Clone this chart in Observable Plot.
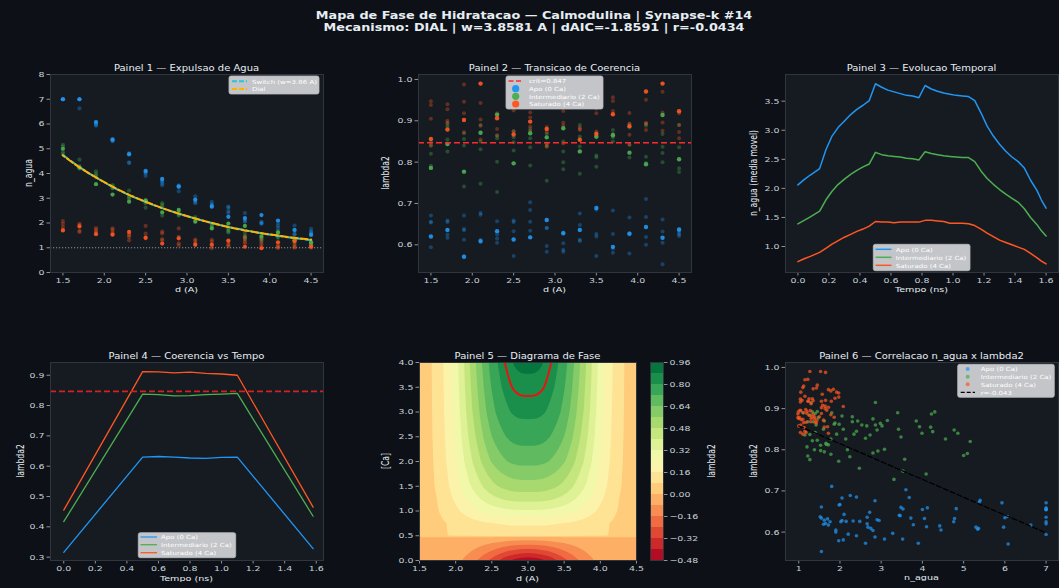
<!DOCTYPE html>
<html>
<head>
<meta charset="utf-8">
<script src="https://cdn.jsdelivr.net/npm/d3@7"></script>
<script src="https://cdn.jsdelivr.net/npm/@observablehq/plot@0.6"></script>
<style>
  html, body { margin: 0; padding: 0; background: #0d1117; }
  #fig { position: relative; width: 1059px; height: 588px; background: #0d1117; overflow: hidden; }
  .panel { position: absolute; }
  .panel svg { overflow: visible; }
</style>
</head>
<body>
<div id="fig"></div>
<script>
// ---------------- DATA ----------------
const suptitle1 = "Mapa de Fase de Hidratacao \u2014 Calmodulina | Synapse-k #14";
const suptitle2 = "Mecanismo: DIAL | w=3.8581 A | dAIC=-1.8591 | r=-0.0434";
const panelTitles = ["Painel 1 \u2014 Expulsao de Agua", "Painel 2 \u2014 Transicao de Coerencia", "Painel 3 \u2014 Evolucao Temporal",
  "Painel 4 \u2014 Coerencia vs Tempo", "Painel 5 \u2014 Diagrama de Fase", "Painel 6 \u2014 Correlacao n_agua x lambda2"];
const groupNames = ["Apo (0 Ca)", "Intermediario (2 Ca)", "Saturado (4 Ca)"];

const dVals = [1.5,1.7,1.9,2.1,2.3,2.5,2.7,2.9,3.1,3.3,3.5,3.7,3.9,4.1,4.3,4.5];

// replicate 0 of each row is the highlighted one
const nApo = [
 [7.00,7.00,7.00,7.00,7.00],[7.00,7.00,7.00,7.00,6.63],[6.08,5.93,6.06,6.00,5.97],[5.36,5.40,5.38,5.30,5.34],
 [4.78,4.82,4.76,4.42,4.45],[4.10,4.12,4.00,4.05,3.90],[3.78,3.60,3.68,3.53,3.72],[3.48,3.44,3.46,3.28,3.52],
 [2.95,2.90,2.80,2.85,3.08],[2.66,2.85,2.72,2.68,2.75],[2.25,2.40,2.48,2.66,2.62],[2.20,2.05,2.15,2.40,2.08],
 [2.32,1.98,2.05,2.02,1.97],[2.10,1.80,2.00,1.60,1.90],[1.72,1.55,1.70,1.90,1.55],[1.52,1.55,1.62,1.76,1.65]];
const lApo = [
 [0.620,0.671,0.656,0.654,0.594],[0.636,0.659,0.655,0.625,0.617],[0.571,0.671,0.638,0.635,0.612],[0.609,0.677,0.673,0.612,0.607],
 [0.633,0.657,0.625,0.615,0.605],[0.613,0.659,0.655,0.633,0.573],[0.618,0.703,0.684,0.656,0.634],[0.660,0.641,0.640,0.597,0.583],
 [0.628,0.630,0.604,0.588,0.583],[0.636,0.676,0.648,0.612,0.609],[0.689,0.685,0.626,0.620,0.573],[0.595,0.683,0.626,0.591,0.581],
 [0.627,0.666,0.628,0.625,0.579],[0.643,0.711,0.667,0.619,0.600],[0.617,0.661,0.632,0.605,0.553],[0.637,0.634,0.629,0.625,0.621]];
const nInt = [
 [5.00,5.16,5.09,4.86,4.77],[4.25,4.56,4.30,4.22,4.20],[3.57,4.09,3.99,3.93,3.85],[3.15,3.53,3.48,3.42,3.40],
 [2.86,3.31,3.08,3.02,2.98],[2.92,2.62,2.90,2.86,2.80],[2.43,2.80,2.73,2.65,2.30],[2.53,2.47,2.40,2.34,2.30],
 [2.05,2.24,2.18,2.14,2.08],[1.78,1.97,1.92,1.86,1.80],[1.98,1.78,1.72,1.66,1.62],[1.88,1.60,1.47,1.42,1.35],
 [1.45,1.53,1.40,1.33,1.27],[1.62,1.67,1.53,1.45,1.40],[1.30,1.38,1.33,1.27,1.22],[1.20,1.27,1.22,1.15,1.10]];
const lInt = [
 [0.786,0.820,0.791,0.840,0.848],[0.844,0.826,0.892,0.887,0.855],[0.777,0.741,0.840,0.856,0.870],[0.871,0.748,0.831,0.850,0.890],
 [0.915,0.728,0.801,0.858,0.864],[0.797,0.828,0.848,0.860,0.875],[0.870,0.792,0.836,0.858,0.880],[0.860,0.755,0.845,0.838,0.868],
 [0.882,0.783,0.800,0.826,0.850],[0.826,0.772,0.838,0.862,0.890],[0.862,0.789,0.812,0.816,0.870],[0.865,0.850,0.878,0.860,0.868],
 [0.823,0.811,0.842,0.892,0.884],[0.795,0.813,0.798,0.893,0.888],[0.914,0.800,0.822,0.837,0.868],[0.807,0.776,0.785,0.836,0.890]];
const nSat = [
 [1.70,2.08,1.97,1.84,1.72],[1.86,1.97,1.92,1.68,1.64],[1.55,1.79,1.72,1.65,1.60],[1.53,1.78,1.72,1.62,1.55],
 [1.64,1.55,1.50,1.43,1.30],[1.40,1.88,1.57,1.43,1.38],[1.17,1.65,1.58,1.35,1.30],[1.38,1.78,1.44,1.18,1.10],
 [1.12,1.33,1.28,1.20,1.15],[1.13,1.32,1.25,1.05,0.98],[1.29,1.24,1.15,1.10,1.05],[1.04,1.45,1.35,1.25,1.18],
 [0.98,1.35,1.20,1.12,1.04],[1.22,1.10,1.05,1.02,0.99],[1.27,1.15,1.08,1.03,1.00],[1.04,1.22,1.12,1.06,1.00]];
const lSat = [
 [0.856,0.905,0.938,0.947,0.840],[0.879,0.928,0.940,0.896,0.900],[0.902,0.918,0.946,0.988,0.872],[0.990,0.943,0.903,0.855,0.888],
 [0.906,0.918,0.880,0.865,0.912],[0.867,0.925,0.935,0.950,0.875],[0.898,0.920,0.908,0.886,0.876],[0.880,0.885,0.872,0.842,0.838],
 [0.955,0.924,0.895,0.888,0.845],[0.854,0.880,0.884,0.940,0.878],[0.868,0.918,0.930,0.874,0.860],[0.916,0.957,0.948,0.924,0.867],
 [0.887,0.919,0.893,0.866,0.842],[0.971,0.951,0.895,0.878,0.892],[0.990,0.970,0.920,0.896,0.876],[0.923,0.918,0.890,0.873,0.858]];

const fitSwitch = [4.75,4.26,3.84,3.46,3.13,2.85,2.60,2.38,2.18,2.00,1.84,1.71,1.59,1.48,1.39,1.31];
const fitDial   = [4.73,4.25,3.84,3.47,3.14,2.86,2.60,2.38,2.18,2.00,1.84,1.70,1.59,1.49,1.40,1.33];
const nBase = 1.0;
const lamCrit = 0.847;

const tEvo = [0.00,0.04,0.08,0.14,0.18,0.22,0.26,0.30,0.34,0.38,0.42,0.46,0.50,0.54,0.58,0.62,0.66,0.70,0.74,0.78,0.82,0.86,0.90,0.94,0.98,1.02,1.06,1.10,1.14,1.18,1.22,1.26,1.30,1.34,1.38,1.42,1.46,1.50,1.54,1.57,1.60];
const evoApo = [2.06,2.15,2.23,2.34,2.66,2.90,3.05,3.16,3.27,3.36,3.43,3.51,3.80,3.74,3.69,3.66,3.63,3.60,3.59,3.56,3.77,3.71,3.67,3.64,3.62,3.60,3.59,3.58,3.51,3.30,3.07,2.90,2.76,2.64,2.54,2.46,2.35,2.14,1.97,1.80,1.66];
const evoInt = [1.39,1.45,1.51,1.61,1.80,1.95,2.07,2.16,2.24,2.31,2.37,2.42,2.62,2.58,2.56,2.55,2.54,2.52,2.51,2.49,2.63,2.60,2.58,2.56,2.55,2.54,2.53,2.53,2.46,2.30,2.17,2.07,1.98,1.90,1.83,1.76,1.65,1.50,1.38,1.27,1.18];
const evoSat = [0.74,0.79,0.83,0.90,0.97,1.04,1.10,1.16,1.21,1.26,1.30,1.35,1.43,1.42,1.42,1.41,1.42,1.42,1.42,1.42,1.45,1.45,1.44,1.43,1.40,1.40,1.40,1.39,1.36,1.30,1.23,1.17,1.11,1.07,1.03,0.99,0.95,0.88,0.81,0.75,0.70];

const tCoh = [0.00,0.50,0.60,0.70,0.80,0.90,1.00,1.10,1.58];
const cohApo = [0.316,0.630,0.632,0.630,0.627,0.626,0.629,0.630,0.328];
const cohInt = [0.417,0.838,0.836,0.832,0.833,0.836,0.838,0.840,0.435];
const cohSat = [0.455,0.912,0.911,0.908,0.910,0.906,0.904,0.900,0.465];

// phase diagram field: profile columns over |d-3|, rows over [Ca]
const profX = [0, 0.25, 0.5, 0.75, 1.0, 1.25, 1.5];
const caUp = [0.5, 0.75, 1.0, 1.25, 1.5, 2.0, 2.5, 3.0, 3.5, 4.0];
const gridUp = [
 [0.120,0.119,0.114,0.104,0.088,0.068,0.047],
 [0.170,0.168,0.156,0.132,0.098,0.063,0.033],
 [0.310,0.304,0.275,0.217,0.143,0.076,0.031],
 [0.430,0.421,0.374,0.284,0.175,0.083,0.029],
 [0.525,0.513,0.454,0.340,0.204,0.093,0.031],
 [0.663,0.647,0.566,0.413,0.237,0.101,0.031],
 [0.753,0.734,0.639,0.460,0.258,0.107,0.031],
 [0.819,0.798,0.691,0.494,0.272,0.110,0.031],
 [0.862,0.840,0.726,0.516,0.282,0.112,0.031],
 [0.895,0.871,0.752,0.533,0.289,0.114,0.031]];
const caLo = [0, 0.1, 0.2, 0.3, 0.4, 0.5];
const gridLo = [
 [-0.460,-0.401,-0.268,-0.138,-0.058,-0.024,-0.013],
 [-0.366,-0.320,-0.214,-0.112,-0.048,-0.021,-0.012],
 [-0.273,-0.238,-0.160,-0.085,-0.038,-0.018,-0.012],
 [-0.179,-0.157,-0.107,-0.058,-0.028,-0.015,-0.011],
 [-0.085,-0.075,-0.053,-0.031,-0.018,-0.012,-0.010],
 [-0.010,-0.010,-0.010,-0.010,-0.010,-0.010,-0.010]];
const cLevels = [-0.48,-0.40,-0.32,-0.24,-0.16,-0.08,0.00,0.08,0.16,0.24,0.32,0.40,0.48,0.56,0.64,0.72,0.80,0.88,0.96];
const cbTicks = [-0.48,-0.32,-0.16,0.00,0.16,0.32,0.48,0.64,0.80,0.96];

const regN = [1.0, 7.0];
const regL = [0.858, 0.598];
const regLabel = "r=-0.043";
const switchLabel = "Switch (w=3.86 A)";

// ticks
const ticksD = [1.5,2.0,2.5,3.0,3.5,4.0,4.5];
const ticksN = [0,1,2,3,4,5,6,7,8];
const ticksL = [0.6,0.7,0.8,0.9,1.0];
const ticksT = [0.0,0.2,0.4,0.6,0.8,1.0,1.2,1.4,1.6];
const ticksEvo = [1.0,1.5,2.0,2.5,3.0,3.5];
const ticksCoh = [0.3,0.4,0.5,0.6,0.7,0.8,0.9];
const ticksCa = [0.0,0.5,1.0,1.5,2.0,2.5,3.0,3.5,4.0];
const ticksNag = [1,2,3,4,5,6,7];

// ---------------- STYLE ----------------
const BG = "#0d1117", AX = "#161b22", SPINE = "#30363d", TICKTXT = "#c9d1d9", TICKLINE = "#8b949e", TITLE = "#e6edf3";
const COL = ["#2196f3", "#4caf50", "#ff5722"];
const LEG_BG = "#d2d4d7", LEG_TXT = "#ffffff", LEG_EDGE = "#b8babd";
const SQ = 0.8; // vertical squash of the reference's lettering

// ---------------- HELPERS ----------------
const fig = document.getElementById("fig");
const MG = {top: 10, right: 14, bottom: 30, left: 44};
function squashTexts(svg) {
  svg.querySelectorAll("text").forEach(t => {
    const tr = t.getAttribute("transform");
    if (tr) t.setAttribute("transform", tr + ` scale(1,${SQ})`);
    else {
      const x = parseFloat(t.getAttribute("x")) || 0, y = parseFloat(t.getAttribute("y")) || 0;
      t.removeAttribute("x"); t.removeAttribute("y");
      t.setAttribute("transform", `translate(${x},${y}) scale(1,${SQ})`);
    }
  });
}
function panel(fx, fy, fw, fh, opts, mg = MG) {
  const w = fw + mg.left + mg.right, h = fh + mg.top + mg.bottom;
  const svg = Plot.plot({
    width: w, height: h,
    marginTop: mg.top, marginRight: mg.right, marginBottom: mg.bottom, marginLeft: mg.left,
    style: {background: "transparent", color: TICKTXT, fontFamily: "DejaVu Sans, sans-serif", fontSize: "9.4px", overflow: "visible"},
    ...opts
  });
  squashTexts(svg);
  const div = document.createElement("div");
  div.className = "panel";
  div.style.left = (fx - mg.left) + "px";
  div.style.top = (fy - mg.top) + "px";
  div.style.width = w + "px";
  div.style.height = h + "px";
  div.appendChild(svg);
  fig.appendChild(div);
}
const f1 = d3.format(".1f"), f0 = d3.format("d"), f2 = d3.format(".2f");
function axes(xt, xf, yt, yf) {
  return [
    Plot.axisX({ticks: xt, tickFormat: xf, tickSize: 3.5, tickPadding: 2, stroke: TICKLINE, label: null}),
    Plot.axisY({ticks: yt, tickFormat: yf, tickSize: 3.5, tickPadding: 2.5, stroke: TICKLINE, label: null})
  ];
}
function table(nArr, lArr, g) {
  const out = [];
  dVals.forEach((d, i) => nArr[i].forEach((n, k) => out.push({d, n, l: lArr[i][k], rep: k, g})));
  return out;
}
const groups = [table(nApo, lApo, 0), table(nInt, lInt, 1), table(nSat, lSat, 2)];

// ---------------- PANEL 1 ----------------
panel(50, 74, 273, 198, {
  x: {domain: [1.35, 4.65]}, y: {domain: [0, 8]},
  marks: [
    Plot.frame({fill: AX}),
    Plot.ruleY([nBase], {stroke: TICKLINE, strokeDasharray: "1.2,1.8", strokeWidth: 1}),
    ...groups.map((rows, g) => Plot.dot(rows.filter(r => r.rep > 0), {x: "d", y: "n", r: 2.1, fill: COL[g], fillOpacity: 0.33})),
    ...groups.map((rows, g) => Plot.dot(rows.filter(r => r.rep === 0), {x: "d", y: "n", r: 2.1, fill: COL[g], fillOpacity: 0.9})),
    Plot.line(dVals, {x: d => d, y: (d, i) => fitSwitch[i], stroke: "#26c6da", strokeWidth: 2, strokeDasharray: "7,3", curve: "natural"}),
    Plot.line(dVals, {x: d => d, y: (d, i) => fitDial[i], stroke: "#ffb300", strokeWidth: 2, strokeDasharray: "7,3", strokeDashoffset: 5, curve: "natural"}),
    ...axes(ticksD, f1, ticksN, f0),
    Plot.frame({stroke: SPINE})
  ]
});

// ---------------- PANEL 2 ----------------
panel(418, 74, 273, 198, {
  x: {domain: [1.35, 4.65]}, y: {domain: [0.533, 1.012]},
  marks: [
    Plot.frame({fill: AX}),
    ...groups.map((rows, g) => Plot.dot(rows.filter(r => r.rep > 0), {x: "d", y: "l", r: 2.0, fill: COL[g], fillOpacity: 0.33})),
    ...groups.map((rows, g) => Plot.dot(rows.filter(r => r.rep === 0), {x: "d", y: "l", r: 2.2, fill: COL[g], fillOpacity: 0.92})),
    Plot.ruleY([lamCrit], {stroke: "#ff2a2a", strokeWidth: 1.5, strokeDasharray: "6,3"}),
    ...axes(ticksD, f1, ticksL, f1),
    Plot.frame({stroke: SPINE})
  ]
});

// ---------------- PANEL 3 ----------------
const evo = [evoApo, evoInt, evoSat];
panel(785, 74, 273, 198, {
  x: {domain: [-0.08, 1.68]}, y: {domain: [0.553, 3.959]},
  marks: [
    Plot.frame({fill: AX}),
    ...evo.map((ser, g) => Plot.line(tEvo, {x: t => t, y: (t, i) => ser[i], stroke: COL[g], strokeWidth: 1.5})),
    ...axes(ticksT, f1, ticksEvo, f1),
    Plot.frame({stroke: SPINE})
  ]
});

// ---------------- PANEL 4 ----------------
const coh = [cohApo, cohInt, cohSat];
panel(50, 362, 273, 198, {
  x: {domain: [-0.084, 1.646]}, y: {domain: [0.289, 0.942]},
  marks: [
    Plot.frame({fill: AX}),
    ...coh.map((ser, g) => Plot.line(tCoh, {x: t => t, y: (t, i) => ser[i], stroke: COL[g], strokeWidth: 1.3})),
    Plot.ruleY([lamCrit], {stroke: "#d32020", strokeWidth: 1.8, strokeDasharray: "6,3"}),
    ...axes(ticksT, f1, ticksCoh, f1),
    Plot.frame({stroke: SPINE})
  ]
});

// ---------------- PANEL 5 ----------------
function rowAt(row, x) {
  const h = 0.25;
  const i = Math.min(Math.floor(x / h), row.length - 2);
  const t = x / h - i;
  const p0 = i > 0 ? row[i - 1] : row[1], p1 = row[i], p2 = row[i + 1];
  const p3 = i + 2 < row.length ? row[i + 2] : 2 * row[i + 1] - row[i];
  return 0.5 * (2 * p1 + (-p0 + p2) * t + (2 * p0 - 5 * p1 + 4 * p2 - p3) * t * t + (-p0 + 3 * p1 - 3 * p2 + p3) * t * t * t);
}
function field(d, ca) {
  const x = Math.min(Math.abs(d - 3), profX[profX.length - 1]);
  const up = ca >= 0.5;
  const cas = up ? caUp : caLo, g = up ? gridUp : gridLo;
  const c = Math.max(cas[0], Math.min(ca, cas[cas.length - 1]));
  let j = d3.bisectRight(cas, c) - 1;
  j = Math.max(0, Math.min(j, cas.length - 2));
  const s = (c - cas[j]) / (cas[j + 1] - cas[j]);
  return rowAt(g[j], x) * (1 - s) + rowAt(g[j + 1], x) * s;
}
const colorScale = {type: "linear", scheme: "RdYlGn", domain: [-0.52, 0.92]};
panel(419, 362, 217, 198, {
  x: {domain: [1.5, 4.5]}, y: {domain: [0, 4]}, color: colorScale,
  marks: [
    Plot.contour(null, {fill: (x, y) => field(x, y), x1: 1.5, x2: 4.5, y1: 0, y2: 4, thresholds: cLevels.slice(0, -1), stroke: "none"}),
    Plot.contour(null, {value: (x, y) => field(x, y), x1: 1.5, x2: 4.5, y1: 0, y2: 4.3, thresholds: [lamCrit], stroke: "#ee1111", strokeWidth: 2, fill: "none", clip: true}),
    ...axes(ticksD, f1, ticksCa, f1),
    Plot.frame({stroke: SPINE})
  ]
});
// colorbar
panel(650, 362, 13, 198, {
  y: {domain: [cLevels[0], cLevels[cLevels.length - 1]]}, color: colorScale,
  marks: [
    Plot.rect(cLevels.slice(0, -1), {y1: d => d, y2: (d, i) => cLevels[i + 1], fill: d => d}),
    Plot.axisY({anchor: "right", ticks: cbTicks, tickFormat: f2, tickSize: 3.5, tickPadding: 2.5, stroke: TICKLINE, label: null}),
    Plot.frame({stroke: SPINE})
  ]
}, {top: 10, right: 44, bottom: 10, left: 0});

// ---------------- PANEL 6 ----------------
panel(785, 362, 273, 198, {
  x: {domain: [0.679, 7.301]}, y: {domain: [0.531, 1.012]},
  marks: [
    Plot.frame({fill: AX}),
    ...groups.map((rows, g) => Plot.dot(rows, {x: "n", y: "l", r: 1.8, fill: COL[g], fillOpacity: 0.7})),
    Plot.line(regN, {x: d => d, y: (d, i) => regL[i], stroke: "#000000", strokeWidth: 1.3, strokeDasharray: "5,2.5"}),
    ...axes(ticksNag, f0, ticksL, f1),
    Plot.frame({stroke: SPINE})
  ]
});

// ---------------- OVERLAY TEXT & LEGENDS ----------------
const ov = d3.create("svg").attr("width", 1059).attr("height", 588)
  .style("position", "absolute").style("left", "0px").style("top", "0px")
  .attr("font-family", "DejaVu Sans, sans-serif");
fig.appendChild(ov.node());

function T(x, y, s, o = {}) {
  const t = ov.append("text").attr("transform", `translate(${x},${y}) scale(1,${SQ})`).text(s)
    .attr("font-size", o.size || 9.6).attr("fill", o.fill || TITLE)
    .attr("text-anchor", o.anchor || "middle");
  if (o.weight) t.attr("font-weight", o.weight);
  if (o.baseline) t.attr("dominant-baseline", o.baseline);
  return t;
}
function YL(x, y, s) {
  const t = ov.append("text").attr("transform", `translate(${x},${y}) rotate(-90)`)
    .attr("text-anchor", "middle").attr("dominant-baseline", "central")
    .attr("font-size", 9.6).attr("fill", TITLE).text(s);
  const L = t.node().getComputedTextLength();
  t.attr("textLength", L * SQ).attr("lengthAdjust", "spacingAndGlyphs");
}
function legend(x, y, w, h, items, textX) {
  ov.append("rect").attr("x", x).attr("y", y).attr("width", w).attr("height", h).attr("rx", 2)
    .attr("fill", LEG_BG).attr("fill-opacity", 0.92).attr("stroke", LEG_EDGE).attr("stroke-width", 0.8);
  items.forEach(it => {
    if (it.type === "line") {
      ov.append("line").attr("x1", it.x1).attr("x2", it.x2).attr("y1", it.y).attr("y2", it.y)
        .attr("stroke", it.color).attr("stroke-width", it.w).attr("stroke-dasharray", it.dash || null);
    } else {
      ov.append("circle").attr("cx", it.cx).attr("cy", it.y).attr("r", it.r).attr("fill", it.color).attr("fill-opacity", it.op || 1);
    }
    T(textX, it.y, it.label, {size: 7, anchor: "start", baseline: "central", fill: LEG_TXT});
  });
}

// suptitle
T(534, 19, suptitle1, {size: 12.8, weight: "bold"});
T(534, 30.5, suptitle2, {size: 12.8, weight: "bold"});

// panel titles
const tc = [[186.5, 70.5], [554.5, 70.5], [921.5, 70.5], [186.5, 358.5], [527.5, 358.5], [921.5, 358.5]];
panelTitles.forEach((s, i) => T(tc[i][0], tc[i][1], s, {size: 10}));

// x labels
T(186.5, 292, "d (A)");
T(554.5, 292, "d (A)");
T(921.5, 292, "Tempo (ns)");
T(186.5, 580.5, "Tempo (ns)");
T(527.5, 580.5, "d (A)");
T(921.5, 579.5, "n_agua");

// y labels
YL(28.5, 173, "n_agua");
YL(385, 173, "lambda2");
YL(753, 173, "n_agua (media movel)");
YL(20, 461, "lambda2");
YL(385, 461, "[Ca]");
YL(711, 461, "lambda2");
YL(753, 461, "lambda2");

// legends
legend(229, 76, 90, 18, [
  {type: "line", x1: 232, x2: 247, y: 81.3, color: "#26c6da", w: 2, dash: "5,2", label: switchLabel},
  {type: "line", x1: 232, x2: 247, y: 89, color: "#ffb300", w: 2, dash: "5,2", label: "Dial"}
], 252);
legend(506, 76, 97, 33, [
  {type: "line", x1: 508.5, x2: 523, y: 81, color: "#ff2a2a", w: 1.5, dash: "5,2.5", label: "crit=" + lamCrit},
  {type: "dot", cx: 515.7, y: 88.7, r: 3.6, color: COL[0], label: groupNames[0]},
  {type: "dot", cx: 515.7, y: 96.3, r: 3.6, color: COL[1], label: groupNames[1]},
  {type: "dot", cx: 515.7, y: 104, r: 3.6, color: COL[2], label: groupNames[2]}
], 529);
legend(873.3, 244.3, 96.7, 26.4, groupNames.map((s, i) =>
  ({type: "line", x1: 875.5, x2: 891.5, y: [249.3, 257.3, 265.3][i], color: COL[i], w: 1.5, label: s})), 895.7);
legend(138.3, 532.7, 97.4, 25, groupNames.map((s, i) =>
  ({type: "line", x1: 140.5, x2: 157, y: [537, 544.7, 552.7][i], color: COL[i], w: 1.3, label: s})), 161);
legend(957.7, 364.3, 96.6, 33, [
  ...groupNames.map((s, i) => ({type: "dot", cx: 967.7, y: [369, 376.7, 384.3][i], r: 2, color: COL[i], op: 0.7, label: s})),
  {type: "line", x1: 960.7, x2: 975, y: 392.3, color: "#000000", w: 1.3, dash: "4,2", label: regLabel}
], 980.7);
</script>
</body>
</html>
